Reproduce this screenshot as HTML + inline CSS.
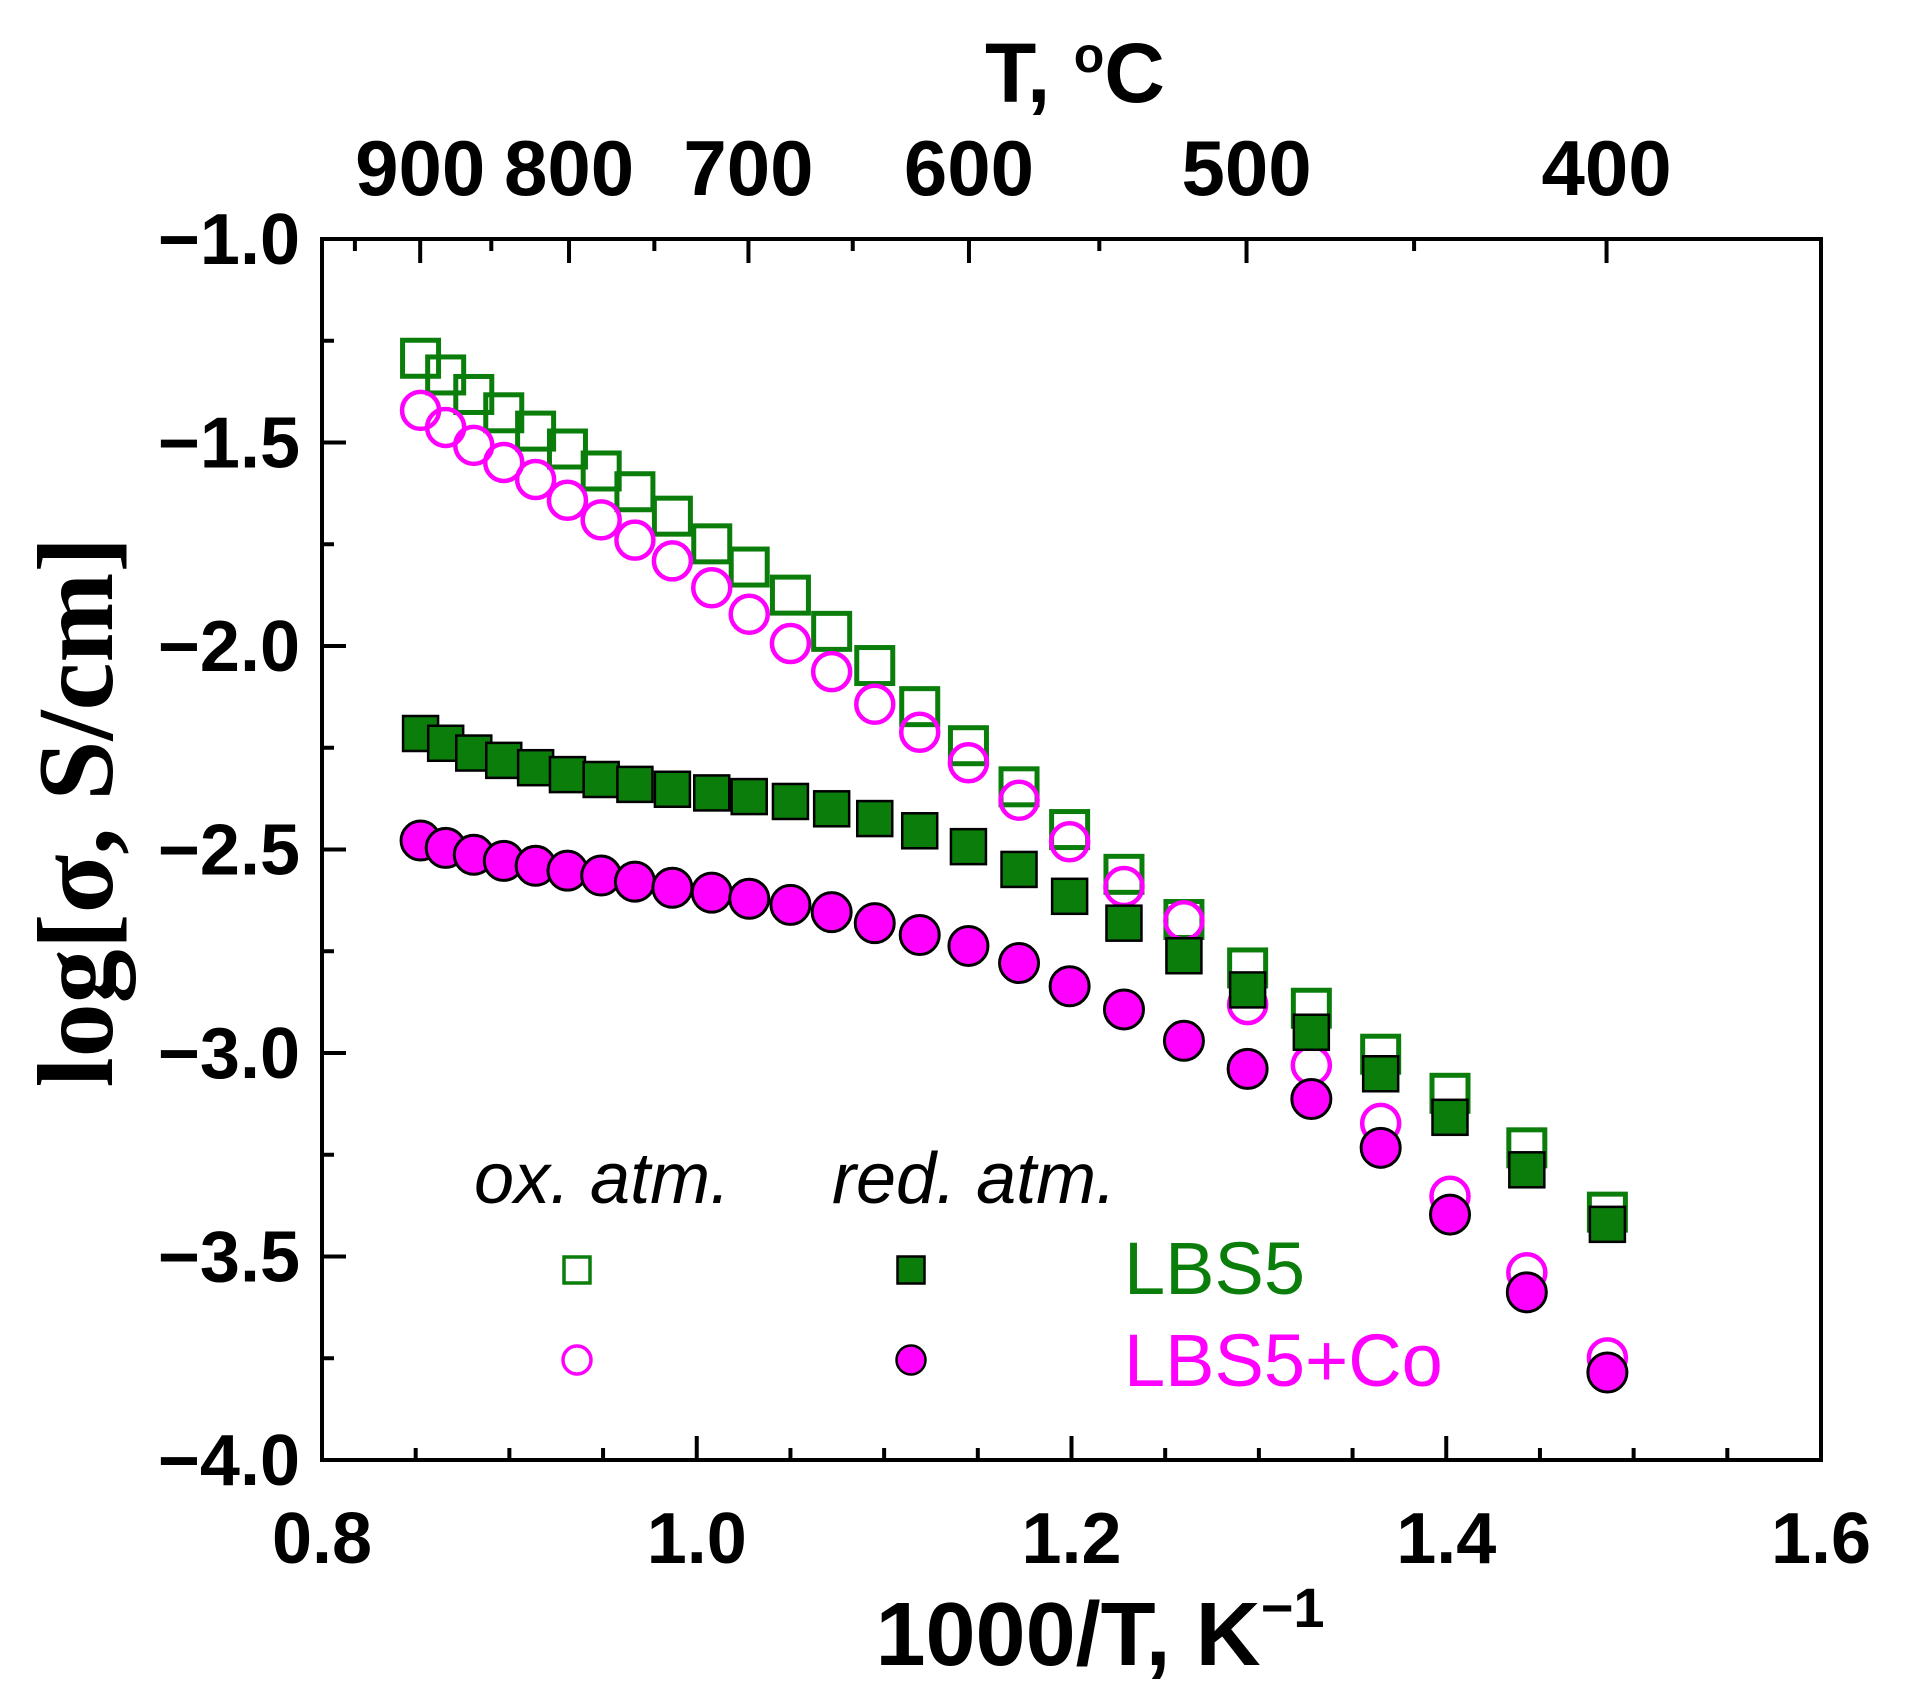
<!DOCTYPE html>
<html><head><meta charset="utf-8"><style>
html,body{margin:0;padding:0;background:#fff;}
svg{display:block;}
</style></head><body>
<svg id="chart" width="1905" height="1699" viewBox="0 0 1905 1699" xmlns="http://www.w3.org/2000/svg" font-family="Liberation Sans, sans-serif">
<g id="axes"></g>
<g id="marks"></g>
<g id="legend"></g>
</svg>
<script>
const xOx = [0.8526,0.866,0.881,0.897,0.914,0.931,0.949,0.967,0.987,1.008,1.028,1.050,1.072,1.095,1.119,1.145,1.172,1.199,1.228,1.260,1.294,1.328,1.365,1.402,1.443,1.486];
const lbs5Ox = [-1.293,-1.334,-1.382,-1.427,-1.472,-1.516,-1.570,-1.621,-1.681,-1.749,-1.806,-1.875,-1.964,-2.048,-2.149,-2.245,-2.346,-2.451,-2.561,-2.672,-2.791,-2.890,-3.003,-3.099,-3.233,-3.391];
const lbs5CoOx = [-1.421,-1.463,-1.507,-1.549,-1.591,-1.642,-1.690,-1.740,-1.791,-1.857,-1.922,-1.994,-2.063,-2.143,-2.212,-2.287,-2.379,-2.481,-2.591,-2.675,-2.881,-3.030,-3.173,-3.352,-3.540,-3.749];
const lbs5Red = [-2.215,-2.239,-2.263,-2.281,-2.299,-2.316,-2.328,-2.340,-2.352,-2.361,-2.370,-2.382,-2.400,-2.424,-2.454,-2.493,-2.549,-2.615,-2.681,-2.761,-2.845,-2.949,-3.051,-3.158,-3.287,-3.421];
const lbs5CoRed = [-2.478,-2.496,-2.513,-2.528,-2.540,-2.552,-2.564,-2.579,-2.594,-2.606,-2.621,-2.636,-2.654,-2.681,-2.710,-2.737,-2.779,-2.836,-2.893,-2.970,-3.039,-3.113,-3.233,-3.397,-3.588,-3.785];
const xTickLabels = ["0.8","1.0","1.2","1.4","1.6"];
const yTickLabels = ["-1.0","-1.5","-2.0","-2.5","-3.0","-3.5","-4.0"];
const topTempLabels = [900,800,700,600,500,400];

const NS="http://www.w3.org/2000/svg";
const L=322,R=1821,T=239,B=1460;
const sx=v=>L+(v-0.8)/0.8*(R-L);
const sy=v=>T+(-1-v)/3*(B-T);
const GREEN="#0b7d0b",MAG="#ff00ff";
function mk(tag,attrs,parent,txt){const e=document.createElementNS(NS,tag);for(const k in attrs)e.setAttribute(k,attrs[k]);if(txt!==undefined)e.textContent=txt;parent.appendChild(e);return e;}
const axes=document.getElementById('axes'),marks=document.getElementById('marks'),legend=document.getElementById('legend');

const frame=mk('rect',{x:L,y:T,width:R-L,height:B-T,fill:'none',stroke:'#000','stroke-width':4},axes);



for(let v=0.8;v<=1.6001;v+=0.05){
  const major=Math.abs(Math.round(v*10)/10-v)<1e-6 && Math.round(v*10)%2===0;
  const x=sx(v);
  const t=mk('line',{x1:x,x2:x,y1:B,y2:B-(major?24:12),stroke:'#000','stroke-width':4},axes);
  
  
}
xTickLabels.forEach(s=>{
  const t=mk('text',{x:sx(+s),y:1563,'text-anchor':'middle','font-size':72,'font-weight':'bold'},axes,s);
  
  
});
for(let v=-1;v>=-4.0001;v-=0.25){
  const major=Math.abs(v*2-Math.round(v*2))<1e-6;
  const y=sy(v);
  const t=mk('line',{x1:L,x2:L+(major?24:12),y1:y,y2:y,stroke:'#000','stroke-width':4},axes);
  
  
}
yTickLabels.forEach(s=>{
  const t=mk('text',{x:300,y:sy(+s)+25,'text-anchor':'end','font-size':72,'font-weight':'bold'},axes,s.replace('-','\u2212'));
  
  
});
for(let tc=950;tc>=350;tc-=50){
  const v=1000/(tc+273.15);
  if(v>1.6)continue;
  const major=tc%100===0;
  const x=sx(v);
  const t=mk('line',{x1:x,x2:x,y1:T,y2:T+(major?24:12),stroke:'#000','stroke-width':4},axes);
  
  
}
topTempLabels.forEach(tc=>{
  const t=mk('text',{x:sx(1000/(tc+273.15)),y:195,'text-anchor':'middle','font-size':78,'font-weight':'bold'},axes,String(tc));
  
  
});
let tt=mk('text',{x:1075,y:102,'text-anchor':'middle','font-size':84,'font-weight':'bold'},axes);


tt.innerHTML='T, <tspan font-size="50" dy="-30">o</tspan><tspan dy="30">C</tspan>';
let xt=mk('text',{x:1100,y:1665,'text-anchor':'middle','font-size':90,'font-weight':'bold'},axes);


xt.innerHTML='1000/T, K<tspan font-size="56" dy="-38">\u22121</tspan>';
let yt=mk('text',{x:0,y:0,'text-anchor':'middle','font-size':108,'font-weight':'bold','font-family':'Liberation Serif, serif',transform:'translate(112,812) rotate(-90)'},axes,'log[\u03c3, S/cm]');



function square(x,y,s,fill,stroke,sw,parent,name){const r=mk('rect',{x:x-s/2,y:y-s/2,width:s,height:s,fill:fill,stroke:stroke,'stroke-width':sw},parent);return r;}
function circle(x,y,d,fill,stroke,sw,parent,name){const c=mk('circle',{cx:x,cy:y,r:d/2,fill:fill,stroke:stroke,'stroke-width':sw},parent);return c;}
xOx.forEach((v,i)=>square(sx(v),sy(lbs5Ox[i]),36,'none',GREEN,5,marks,'lbs5-ox-point'));
xOx.forEach((v,i)=>circle(sx(v),sy(lbs5CoOx[i]),37,'none',MAG,4.5,marks,'lbs5co-ox-point'));
xOx.forEach((v,i)=>square(sx(v),sy(lbs5Red[i]),35,GREEN,'#000',2.5,marks,'lbs5-red-point'));
xOx.forEach((v,i)=>circle(sx(v),sy(lbs5CoRed[i]),39,MAG,'#000',3,marks,'lbs5co-red-point'));

let lt=mk('text',{x:474,y:1203,'font-size':72,'font-style':'italic'},legend,'ox. atm.');


lt=mk('text',{x:832,y:1203,'font-size':72,'font-style':'italic'},legend,'red. atm.');


square(577,1270,26,'none',GREEN,3.5,legend,'legend-lbs5-ox');
square(911,1270,27,GREEN,'#000',2.5,legend,'legend-lbs5-red');
circle(577,1360,28,'none',MAG,3.5,legend,'legend-lbs5co-ox');
circle(911,1360,29,MAG,'#000',2.5,legend,'legend-lbs5co-red');
lt=mk('text',{x:1124,y:1294,'font-size':74,fill:GREEN},legend,'LBS5');


lt=mk('text',{x:1124,y:1386,'font-size':74,fill:MAG},legend,'LBS5+Co');


</script>
</body></html>
